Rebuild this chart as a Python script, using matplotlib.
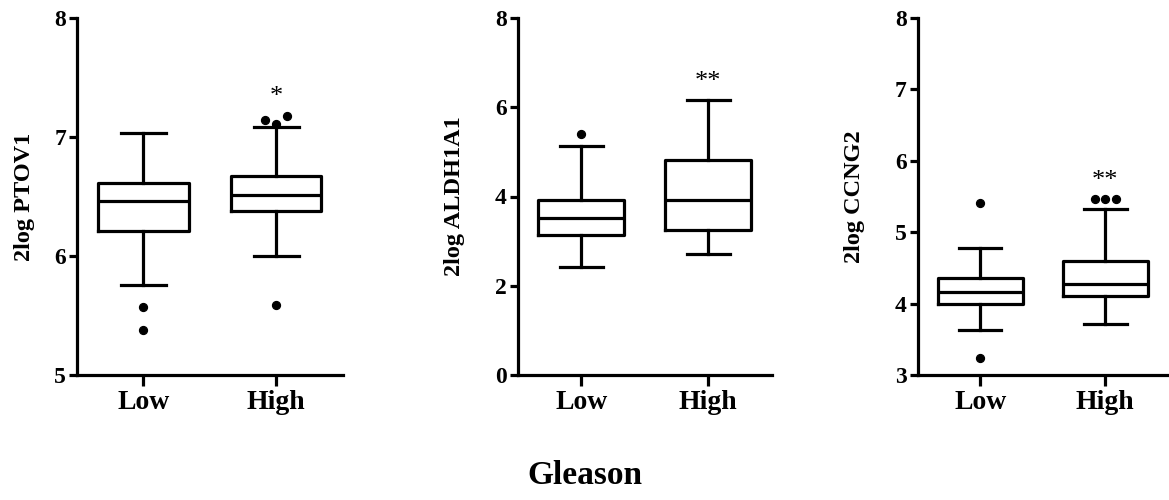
import matplotlib

matplotlib.use("Agg")
import matplotlib.pyplot as plt  # noqa: E402

GROUPS = ["Low", "High"]
GENES = ["PTOV1", "ALDH1A1", "CCNG2"]
STARS = ["*", "**", "**"]

# five-number summaries per gene, [Low, High]
WHISLO = [[5.76, 6.00], [2.43, 2.72], [3.63, 3.72]]
Q1 = [[6.21, 6.38], [3.13, 3.25], [4.00, 4.11]]
MEDIAN = [[6.46, 6.51], [3.51, 3.93], [4.16, 4.28]]
Q3 = [[6.61, 6.67], [3.93, 4.81], [4.36, 4.59]]
WHISHI = [[7.03, 7.08], [5.13, 6.17], [4.78, 5.32]]
OUTLIERS = [
    [[5.57, 5.38], [7.14, 7.11, 7.18, 5.59]],
    [[5.39], []],
    [[5.41, 3.24], [5.46, 5.46, 5.46]],
]

YLIMS = [(5, 8), (0, 8), (3, 8)]
YTICKS = [[5, 6, 7, 8], [0, 2, 4, 6, 8], [3, 4, 5, 6, 7, 8]]

LW = 2.3
SERIF = ["Liberation Serif", "DejaVu Serif"]


def spread(values, center, tol, step=0.085):
    # put nearly equal outliers side by side like the original dot plot
    xs = []
    groups = []
    for v in values:
        for g in groups:
            if abs(g[0] - v) < tol:
                g.append(v)
                break
        else:
            groups.append([v])
    for g in groups:
        n = len(g)
        for i, v in enumerate(g):
            xs.append((center + (i - (n - 1) / 2.0) * step, v))
    return xs


fig = plt.figure(figsize=(11.69, 5.0), dpi=100)
lefts = [0.066, 0.443, 0.785]
widths = [0.227, 0.217, 0.214]
label_x = [0.030, 0.398, 0.740]

for k, gene in enumerate(GENES):
    ax = fig.add_axes([lefts[k], 0.25, widths[k], 0.714])
    stats = []
    for j, grp in enumerate(GROUPS):
        stats.append(
            dict(
                whislo=WHISLO[k][j],
                q1=Q1[k][j],
                med=MEDIAN[k][j],
                q3=Q3[k][j],
                whishi=WHISHI[k][j],
                fliers=[],
                label=grp,
            )
        )
    ax.bxp(
        stats,
        positions=[1, 2],
        widths=0.68,
        showfliers=False,
        boxprops=dict(color="black", linewidth=LW),
        medianprops=dict(color="black", linewidth=LW),
        whiskerprops=dict(color="black", linewidth=LW),
        capprops=dict(color="black", linewidth=LW),
        capwidths=0.34,
    )
    lo, hi = YLIMS[k]
    rng = hi - lo
    for j in range(2):
        pts = spread(OUTLIERS[k][j], j + 1, tol=0.03 * rng)
        if pts:
            ax.scatter(
                [p[0] for p in pts],
                [p[1] for p in pts],
                s=32,
                color="black",
                zorder=3,
                clip_on=False,
            )
        top = max([WHISHI[k][j]] + OUTLIERS[k][j])
        if j == 1:
            ax.text(
                j + 1,
                top + 0.02 * rng,
                STARS[k],
                ha="center",
                va="bottom",
                fontsize=19,
                family=SERIF,
            )

    ax.set_xlim(0.5, 2.5)
    ax.set_ylim(lo, hi)
    ax.set_yticks(YTICKS[k])
    ax.set_xticks([1, 2])
    ax.set_xticklabels(GROUPS)
    for lab in ax.get_xticklabels():
        lab.set_fontfamily(SERIF)
        lab.set_fontweight("bold")
        lab.set_fontsize(20)
    for lab in ax.get_yticklabels():
        lab.set_fontfamily(SERIF)
        lab.set_fontweight("bold")
        lab.set_fontsize(17)
    ax.tick_params(axis="y", length=6, width=LW, pad=2)
    ax.tick_params(axis="x", length=8, width=LW, pad=3)
    ax.set_ylabel("2log " + gene, family=SERIF, fontweight="bold", fontsize=17.5)
    ax.yaxis.set_label_coords(label_x[k], 0.607, transform=fig.transFigure)
    ax.spines["top"].set_visible(False)
    ax.spines["right"].set_visible(False)
    ax.spines["left"].set_linewidth(LW)
    ax.spines["bottom"].set_linewidth(LW)

fig.text(0.5, 0.05, "Gleason", ha="center", va="center", family=SERIF,
         fontweight="bold", fontsize=24)

fig.savefig("out.png", dpi=100)
